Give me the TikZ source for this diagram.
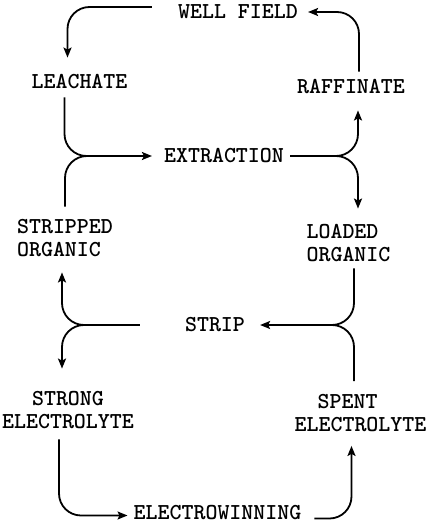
\documentclass[tikz,border=0pt]{standalone}
\usetikzlibrary{arrows.meta}
\begin{document}
\begin{tikzpicture}[x=1pt,y=-1pt,
  lbl/.style={font=\ttfamily\bfseries\fontsize{22.8}{23}\selectfont, inner sep=0pt, align=left},
  flow/.style={line width=1.8pt, rounded corners=22pt},
  arr/.style={flow, -{Stealth[length=10pt,width=8pt,inset=2pt]}}]
\useasboundingbox (0,0) rectangle (427,530);
% labels
\node[lbl] (wf) at (238,12) {WELL FIELD};
\node[lbl] (lea) at (79.5,82) {LEACHATE};
\node[lbl] (raf) at (351,87) {RAFFINATE};
\node[lbl] (ext) at (224,156) {EXTRACTION};
\node[lbl] (so) at (65,238.5) {STRIPPED\\ORGANIC};
\node[lbl] (lo) at (348.5,243.5) {LOADED\\ORGANIC};
\node[lbl] (strip) at (215,325) {STRIP};
\node[lbl, align=center] (se) at (68,410.5) {STRONG\\ELECTROLYTE};
\node[lbl] (spent) at (360.5,413) {\hspace*{23pt}SPENT\\ELECTROLYTE};
\node[lbl] (ew) at (217.5,512.5) {ELECTROWINNING};
% junctions
\coordinate (j1) at ([xshift=-60pt]ext.west);
\coordinate (j3) at ([xshift=40pt]strip.east);
\coordinate (j4) at ([xshift=-45pt]strip.west);
% connectors
\draw[arr] ([xshift=-26pt,yshift=5pt]wf.west) -| ([xshift=-12pt,yshift=17pt]lea.north);
\draw[arr] ([xshift=8pt,yshift=8pt]raf.north) |- ([xshift=10pt]wf.east);
\draw[arr] ([xshift=-15pt,yshift=-8pt]lea.south) |- ([xshift=-12pt]ext.west);
\draw[flow] ([yshift=13pt]so.north) |- (j1);
\draw[arr] ([xshift=6pt]ext.east) -| ([xshift=7pt,yshift=-16pt]raf.south);
\draw[arr] ([xshift=6pt]ext.east) -| ([xshift=9.5pt,yshift=16pt]lo.north);
\draw[arr] ([xshift=5.5pt,yshift=-6pt]lo.south) |- ([xshift=15pt]strip.east);
\draw[flow] ([xshift=-6.5pt,yshift=13pt]spent.north) |- (j3);
\draw[arr] (j4) -| ([xshift=-3pt,yshift=-15pt]so.south);
\draw[arr] (j4) -| ([xshift=-6pt,yshift=23pt]se.north);
\draw[arr] ([xshift=-9pt,yshift=-10pt]se.south) |- ([xshift=-6pt,yshift=-3pt]ew.west);
\draw[arr] ([xshift=13pt,yshift=-6pt]ew.east) -| ([xshift=-9pt,yshift=-14pt]spent.south);
\end{tikzpicture}
\end{document}
